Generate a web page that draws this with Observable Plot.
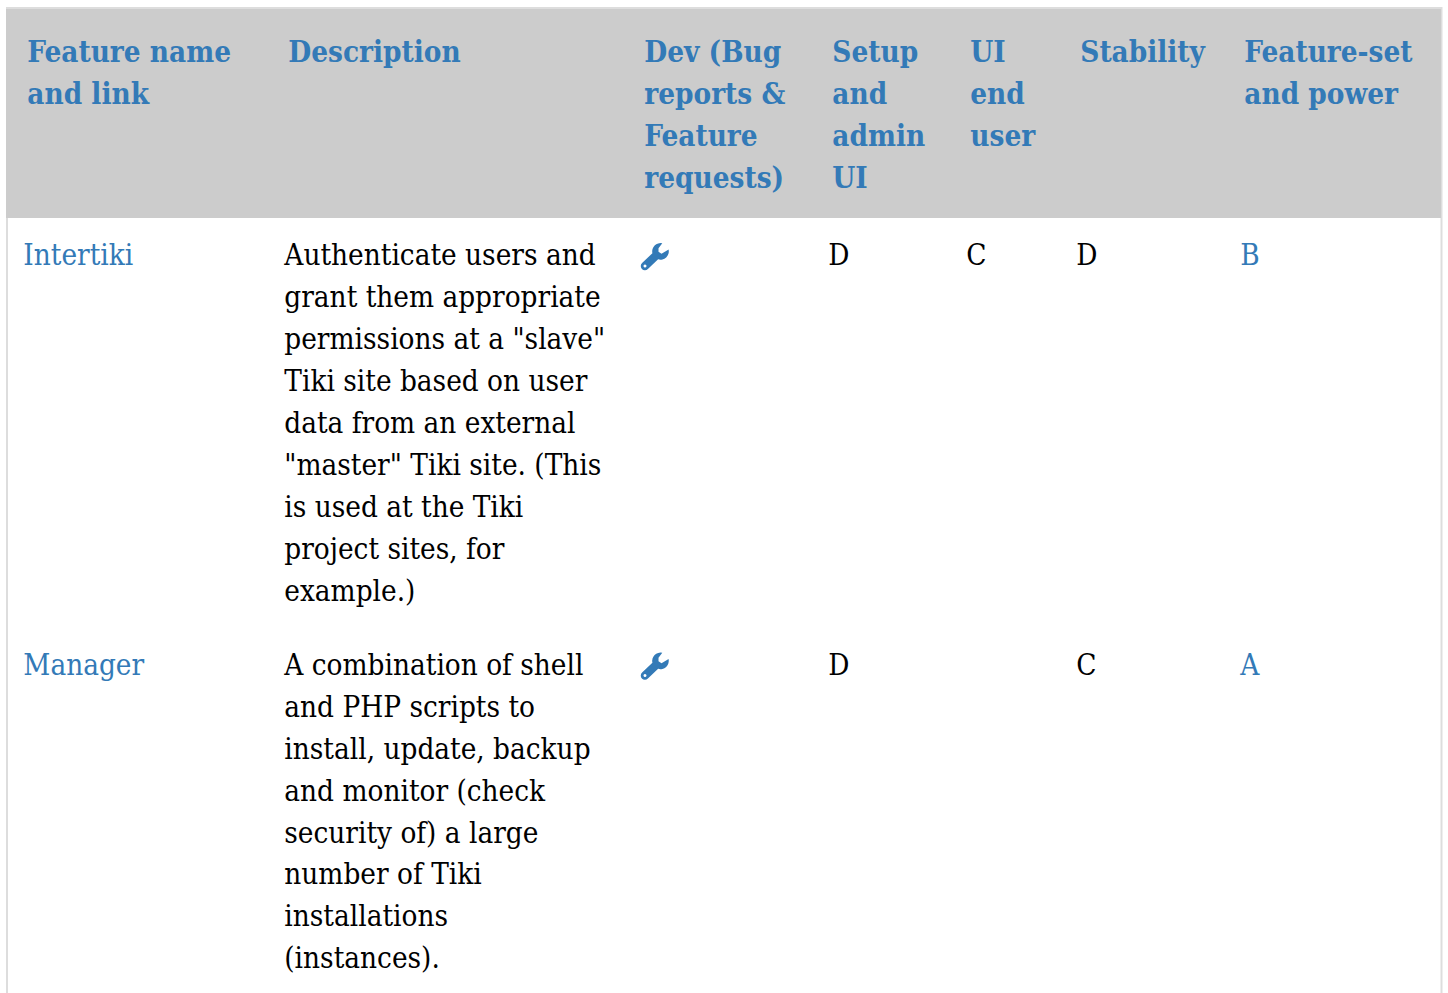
<!DOCTYPE html>
<html><head><meta charset="utf-8">
<script src="https://cdn.jsdelivr.net/npm/d3@7"></script>
<script src="https://cdn.jsdelivr.net/npm/@observablehq/plot@0.6"></script>
<style>html,body{margin:0;padding:0;background:#fff;overflow:hidden}svg{display:block}</style>
</head><body><div id="chart"></div>
<script>
const columns = ["Feature name and link","Description","Dev (Bug reports & Feature requests)","Setup and admin UI","UI end user","Stability","Feature-set and power"];
const headerLines = [["Feature name","and link"],["Description"],["Dev (Bug","reports &","Feature","requests)"],["Setup","and","admin","UI"],["UI","end","user"],["Stability"],["Feature-set","and power"]];
const features = ["Intertiki","Manager"];
const descriptions = [
 ["Authenticate users and","grant them appropriate","permissions at a \"slave\"","Tiki site based on user","data from an external","\"master\" Tiki site. (This","is used at the Tiki","project sites, for","example.)"],
 ["A combination of shell","and PHP scripts to","install, update, backup","and monitor (check","security of) a large","number of Tiki","installations","(instances)."]
];
const setupAdmin = ["D","D"];
const uiEndUser = ["C",""];
const stability = ["D","C"];
const featureSet = ["B","A"];

// layout: column left edges and line positions (in px / line units)
const headLeft = [26.8,287.8,643.8,831.8,969.8,1079.8,1243.8];
const bodyLeft = [22.8,283.8,639.8,827.8,965.8,1075.8,1239.8];
const PITCH = 41.9;
const headFirst = 52.5/PITCH, rowFirst = [255.5/PITCH, 665/PITCH];
const LINK = "#337ab7";

const head = headerLines.flatMap((ls,c)=>ls.map((t,i)=>({t,x:headLeft[c],y:headFirst+i})));
const link = [], plain = [];
features.forEach((f,r)=>{
  link.push({t:f,x:bodyLeft[0],y:rowFirst[r]});
  descriptions[r].forEach((t,i)=>plain.push({t,x:bodyLeft[1],y:rowFirst[r]+i}));
  plain.push({t:setupAdmin[r],x:bodyLeft[3],y:rowFirst[r]});
  plain.push({t:uiEndUser[r],x:bodyLeft[4],y:rowFirst[r]});
  plain.push({t:stability[r],x:bodyLeft[5],y:rowFirst[r]});
  link.push({t:featureSet[r],x:bodyLeft[6],y:rowFirst[r]});
});
const wrench = {draw(ctx,size){
  const k=Math.sqrt(size)/28, P=(x,y)=>[x*k,y*k];
  const m=(x,y)=>ctx.moveTo(...P(x,y)), l=(x,y)=>ctx.lineTo(...P(x,y));
  m(-12.9,6.7); l(-2.6,-2.96);
  ctx.arc(...P(5.5,-4.8),8.3*k,2.92,4.93,false);
  l(3.5,-8); l(3.5,-4.5); l(6.5,-2.5); l(13.2,-6.5);
  ctx.arc(...P(5.5,-4.8),8.3*k,-0.22,1.86,false);
  l(-7.1,12.9);
  ctx.arc(...P(-10,9.8),4.2*k,0.816,3.96,false);
  ctx.closePath();
  ctx.moveTo(...P(-8.5,9.8)); ctx.arc(...P(-10,9.8),1.5*k,0,-6.28,true); ctx.closePath();
}};
const font={fontFamily:"'DejaVu Serif Condensed','DejaVu Serif'",fontSize:29.4,textAnchor:"start",lineAnchor:"middle"};
const chart = Plot.plot({
  width:1448,height:993,margin:0,
  style:{fontStretch:"condensed"},
  x:{domain:[0,1448],range:[0,1448],axis:null},
  y:{domain:[0,993/PITCH],range:[0,993],axis:null},
  marks:[
    Plot.rect([{x1:7,x2:1441.5,y1:8/PITCH,y2:1003/PITCH}],{x1:"x1",x2:"x2",y1:"y1",y2:"y2",fill:"#fff",stroke:"#ddd",strokeWidth:2}),
    Plot.rect([{x1:6,x2:1441,y1:9/PITCH,y2:218/PITCH}],{x1:"x1",x2:"x2",y1:"y1",y2:"y2",fill:"#ccc"}),
    Plot.text(head,{x:"x",y:"y",text:"t",fill:LINK,fontWeight:"bold",...font}),
    Plot.text(link,{x:"x",y:"y",text:"t",fill:LINK,...font}),
    Plot.text(plain,{x:"x",y:"y",text:"t",fill:"#000",...font}),
    Plot.dot(features,{x:()=>654.5,y:(d,i)=>rowFirst[i]+0.2/PITCH,r:15.8,symbol:wrench,fill:LINK,stroke:"none"})
  ]
});
document.getElementById("chart").append(chart);
</script></body></html>
